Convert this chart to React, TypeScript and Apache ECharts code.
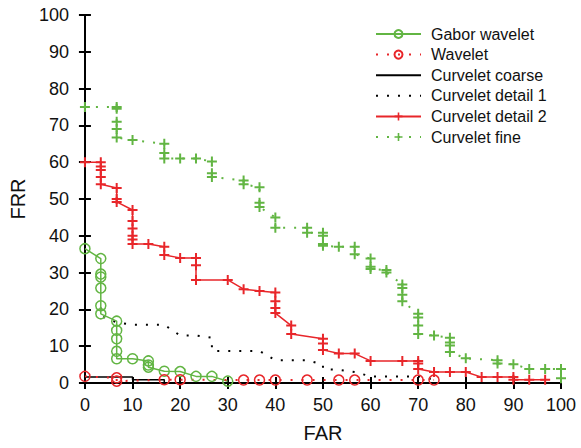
import React, { useEffect, useRef } from "react";
import * as echarts from "echarts";

const xTicks = [0, 10, 20, 30, 40, 50, 60, 70, 80, 90, 100];
const yTicks = [0, 10, 20, 30, 40, 50, 60, 70, 80, 90, 100];

const gaborFar = [0, 3.33, 3.33, 3.33, 3.33, 3.33, 3.33, 6.67, 6.67, 6.67, 6.67, 6.67, 10, 13.33, 13.33, 13.33, 16.67, 20, 23.33, 26.67, 30];
const gaborFrr = [36.5, 33.8, 29.6, 28.8, 25.8, 21, 18.8, 16.8, 14.3, 12, 8.6, 6.6, 6.6, 6, 4.9, 4.3, 3.2, 3.1, 1.8, 1.8, 0.5];

const waveletFar = [0, 6.67, 6.67, 16.67, 20, 33.33, 36.67, 40, 46.67, 53.33, 56.67, 70, 73.33];
const waveletFrr = [1.8, 1.4, 0.5, 0.9, 0.9, 0.8, 0.8, 0.8, 0.8, 0.8, 0.8, 0.8, 0.8];

const coarseFar = [0, 10, 10, 16.67, 16.67, 100];
const coarseFrr = [1.6, 1.6, 0.9, 0.9, 0, 0];

const detail1Far = [3.33, 3.33, 6.67, 10, 16.67, 20, 23.33, 26.67, 26.67, 36.67, 40, 46.67, 50, 50, 53.33, 56.67, 60, 70, 73.33];
const detail1Frr = [20.5, 18.2, 16.5, 15.8, 15.8, 12.9, 12.9, 12.3, 8.7, 8.7, 6.2, 6.2, 5, 3.8, 3.6, 3, 1.8, 1.8, 0.9];

const detail2Far = [0, 3.33, 3.33, 3.33, 3.33, 3.33, 6.67, 6.67, 6.67, 10, 10, 10, 10, 10, 10, 13.33, 16.67, 16.67, 20, 23.33, 23.33, 23.33, 30, 33.33, 36.67, 40, 40, 40, 40, 43.33, 43.33, 50, 50, 50, 53.33, 56.67, 60, 66.67, 70, 70, 70, 73.33, 76.67, 80, 83.33, 86.67, 90, 90, 93.33, 96.67];
const detail2Frr = [60, 60, 58.8, 57.9, 56, 54, 53, 50, 49.2, 47, 44, 42, 40, 39, 37.8, 37.8, 37, 34.8, 34, 34, 32, 28, 28, 25.5, 25, 24.6, 22.2, 20.4, 19, 15.6, 13.3, 12, 10.7, 9, 8, 8, 6, 6, 6, 5.3, 3.8, 3, 3, 3, 1.6, 1.6, 1.6, 0.9, 0.9, 0.9];

const fineFar = [0, 6.67, 6.67, 6.67, 6.67, 6.67, 10, 16.67, 16.67, 16.67, 20, 23.33, 26.67, 26.67, 26.67, 33.33, 33.33, 36.67, 36.67, 36.67, 40, 40, 46.67, 46.67, 50, 50, 50, 50, 53.33, 56.67, 56.67, 60, 60, 60, 63.33, 63.33, 66.67, 66.67, 66.67, 66.67, 70, 70, 70, 70, 73.33, 76.67, 76.67, 76.67, 76.67, 80, 86.67, 86.67, 90, 93.33, 96.67, 100, 100];
const fineFrr = [75, 75, 74.5, 71, 69, 66.7, 66, 65, 62.5, 61, 61, 61, 60.2, 57, 56, 55, 54, 53.2, 49, 47.8, 45, 42.2, 42.2, 40.8, 40.8, 40, 37.8, 37.3, 37, 37, 35, 33.8, 31.6, 31, 30.7, 30, 26.8, 25.8, 24, 22.2, 18.8, 17.8, 15.6, 13.3, 12.9, 12.3, 11, 10.2, 8.4, 6.7, 6.2, 5.3, 5.1, 3.8, 3.8, 3.8, 1.3];

const GREEN = "#62b543";
const RED = "#e8262a";
const BLACK = "#000000";
const FONT = "'Liberation Sans', Arial, Helvetica, sans-serif";
const PLUS = "path://M4,0h2v4h4v2h-4v4h-2v-4h-4v-2h4z";

const zip = (xs: number[], ys: number[]) => xs.map((x, i) => [x, ys[i]]);

export default function App() {
  const ref = useRef<HTMLDivElement>(null);
  useEffect(() => {
    if (!ref.current) return;
    const chart = echarts.init(ref.current, null, { renderer: "svg" });
    const axisBase = {
      type: "value" as const,
      min: 0,
      max: 100,
      interval: 10,
      splitLine: { show: false },
      axisLine: { show: true, lineStyle: { color: BLACK, width: 2 } },
      axisTick: { show: true, inside: true, length: 6, lineStyle: { color: BLACK, width: 2 } },
    };
    const labelStyle = { color: "#111", fontFamily: FONT, fontSize: 18 };
    chart.setOption({
      animation: false,
      backgroundColor: "#fff",
      grid: { left: 83.5, right: 20, top: 15, bottom: 58 },
      legend: {
        orient: "vertical",
        left: 370,
        top: 21,
        itemWidth: 45,
        itemHeight: 10,
        itemGap: 4.6,
        textStyle: { fontFamily: FONT, fontSize: 16, color: "#111", lineHeight: 16, padding: [0, 0, 0, 5] },
        data: ["Gabor wavelet", "Wavelet", "Curvelet coarse", "Curvelet detail 1", "Curvelet detail 2", "Curvelet fine"],
      },
      xAxis: [
        {
          ...axisBase,
          position: "bottom",
          name: "FAR",
          nameLocation: "middle",
          nameGap: 40,
          nameTextStyle: { fontFamily: FONT, fontSize: 20, color: "#111" },
          axisLabel: { ...labelStyle, margin: 13, formatter: (v: number) => (xTicks.includes(v) ? String(v) : "") },
        },
        { ...axisBase, position: "top", axisLabel: { show: false } },
      ],
      yAxis: [
        {
          ...axisBase,
          position: "left",
          name: "FRR",
          nameLocation: "middle",
          nameGap: 52,
          nameTextStyle: { fontFamily: FONT, fontSize: 20, color: "#111" },
          axisLabel: { ...labelStyle, margin: 16, formatter: (v: number) => (yTicks.includes(v) ? String(v) : "") },
        },
        { ...axisBase, position: "right", axisLabel: { show: false } },
      ],
      series: [
        {
          name: "Gabor wavelet",
          type: "line",
          data: zip(gaborFar, gaborFrr),
          symbol: "circle",
          symbolSize: 10,
          lineStyle: { color: GREEN, width: 1.5 },
          itemStyle: { color: "rgba(255,255,255,0)", borderColor: GREEN, borderWidth: 1.5 },
          z: 3,
        },
        {
          name: "Wavelet",
          type: "line",
          data: zip(waveletFar, waveletFrr),
          symbol: "circle",
          symbolSize: 10,
          lineStyle: { color: RED, width: 2, type: [2, 9] },
          itemStyle: { color: "rgba(255,255,255,0)", borderColor: RED, borderWidth: 1.5 },
          z: 3,
        },
        {
          name: "Curvelet coarse",
          type: "line",
          data: zip(coarseFar, coarseFrr),
          symbol: "none",
          lineStyle: { color: BLACK, width: 1.5 },
          itemStyle: { color: BLACK, opacity: 0 },
          z: 2,
        },
        {
          name: "Curvelet detail 1",
          type: "line",
          data: zip(detail1Far, detail1Frr),
          symbol: "none",
          lineStyle: { color: BLACK, width: 2, type: [2, 9] },
          itemStyle: { color: BLACK, opacity: 0 },
          z: 2,
        },
        {
          name: "Curvelet detail 2",
          type: "line",
          data: zip(detail2Far, detail2Frr),
          symbol: PLUS,
          symbolSize: 10,
          lineStyle: { color: RED, width: 1.5 },
          itemStyle: { color: RED },
          z: 4,
        },
        {
          name: "Curvelet fine",
          type: "line",
          data: zip(fineFar, fineFrr),
          symbol: PLUS,
          symbolSize: 10,
          lineStyle: { color: GREEN, width: 2, type: [2, 9] },
          itemStyle: { color: GREEN },
          z: 4,
        },
      ],
    });
    return () => chart.dispose();
  }, []);
  return <div ref={ref} style={{ width: 581, height: 448, position: "absolute", left: 0, top: 0 }} />;
}
